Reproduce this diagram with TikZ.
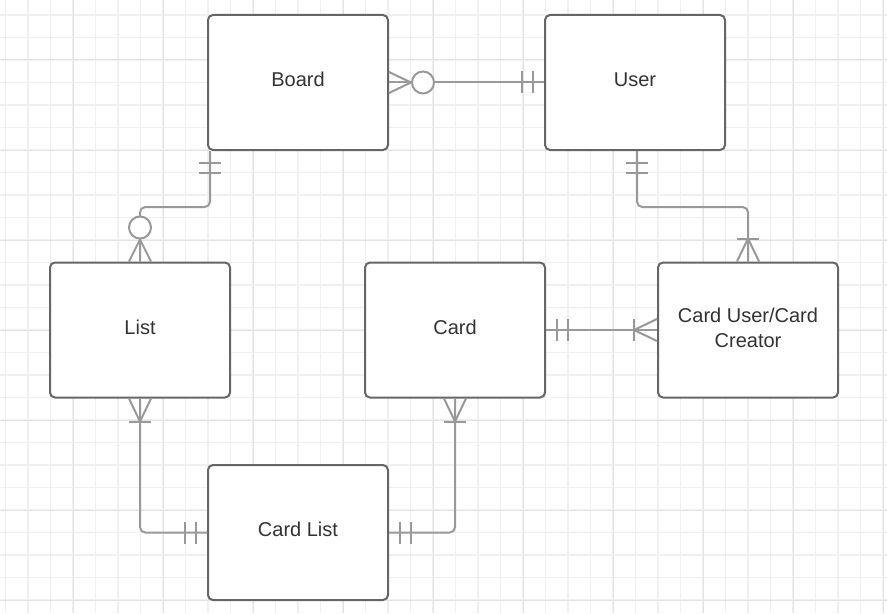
\documentclass[tikz,border=0pt]{standalone}
\usepackage{fontspec}
\setmainfont{Liberation Sans}
\usetikzlibrary{calc}

\definecolor{boxline}{HTML}{666666}
\definecolor{connline}{HTML}{999999}
\definecolor{gridlight}{HTML}{F0F0F0}
\definecolor{gridmaj}{HTML}{E3E3E3}
\definecolor{labeltext}{HTML}{333333}

\tikzset{
  entity/.style={draw=boxline, line width=1.5pt, fill=white, rounded corners=3.75pt,
    minimum width=135pt, minimum height=101.25pt, inner sep=0pt, align=center,
    text height=11pt, text depth=4.8pt,
    text=labeltext, font=\fontsize{15}{18.75}\selectfont},
  conn/.style={draw=connline, line width=1.5pt},
  gridthin/.style={draw=gridlight, line width=1.1pt},
  gridthick/.style={draw=gridmaj, line width=0.75pt},
}

\begin{document}
\begin{tikzpicture}[x=0.75pt,y=-0.75pt]
        \useasboundingbox[fill=white] (0,0) rectangle (887,613);
        % background grid
        \foreach \i in {0,...,39} \draw[gridthin] ({5.5+22.5*\i},0) -- ++(0,613);
        \foreach \i in {0,...,26} \draw[gridthin] (0,{15+22.5*\i}) -- ++(887,0);
        \foreach \i in {0,...,9} \draw[gridthick] ({73+90*\i},0) -- ++(0,613);
        \foreach \i in {0,...,6} \draw[gridthick] (0,{60+90*\i}) -- ++(887,0);
        % entities
        \node[entity] (board) at (298,82.5) {Board};
        \node[entity] (user) at (635,82.5) {User};
        \node[entity] (list) at (140,330) {List};
        \node[entity] (card) at (455,330) {Card};
        \node[entity, text height=30pt, text depth=4.5pt] (cuser) at (748,330) {Card User/Card\\Creator};
        \node[entity] (clist) at (298,532.5) {Card List};
        \coordinate (bl) at ($(board.south west)+(3,0)$);
        \coordinate (ul) at ($(user.south)+(2,0)$);
        % Board -- User
        \draw[conn] (board.east) -- (user.west);
        \draw[conn] ($(board.east)+(0,-10.5)$) -- ($(board.east)+(22,0)$) -- ($(board.east)+(0,10.5)$);
        \draw[conn, fill=white] ($(board.east)+(34,0)$) circle[radius=8.25pt];
        \draw[conn] ($(user.west)+(-11,-11)$) -- ++(0,22);
        \draw[conn] ($(user.west)+(-22,-11)$) -- ++(0,22);
        % Board -- List
        \draw[conn, rounded corners=4pt] (bl) -- ++(0,56) -| (list.north);
        \draw[conn] ($(bl)+(-11,12)$) -- ++(22,0);
        \draw[conn] ($(bl)+(-11,22)$) -- ++(22,0);
        \draw[conn] ($(list.north)+(-11,0)$) -- ($(list.north)+(0,-22)$) -- ($(list.north)+(11,0)$);
        \draw[conn, fill=white] ($(list.north)+(0,-34)$) circle[radius=8.25pt];
        % User -- Card User
        \draw[conn, rounded corners=4pt] (ul) -- ++(0,56) -| (cuser.north);
        \draw[conn] ($(ul)+(-11,12)$) -- ++(22,0);
        \draw[conn] ($(ul)+(-11,22)$) -- ++(22,0);
        \draw[conn] ($(cuser.north)+(-11,0)$) -- ($(cuser.north)+(0,-23)$) -- ($(cuser.north)+(11,0)$);
        \draw[conn] ($(cuser.north)+(-11,-23)$) -- ++(22,0);
        % Card -- Card User
        \draw[conn] (card.east) -- (cuser.west);
        \draw[conn] ($(card.east)+(11,-11)$) -- ++(0,22);
        \draw[conn] ($(card.east)+(22,-11)$) -- ++(0,22);
        \draw[conn] ($(cuser.west)+(0,-11)$) -- ($(cuser.west)+(-23,0)$) -- ($(cuser.west)+(0,11)$);
        \draw[conn] ($(cuser.west)+(-23,-11)$) -- ++(0,22);
        % List -- Card List
        \draw[conn, rounded corners=4pt] (list.south) |- (clist.west);
        \draw[conn] ($(list.south)+(-11,0)$) -- ($(list.south)+(0,23)$) -- ($(list.south)+(11,0)$);
        \draw[conn] ($(list.south)+(-11,23)$) -- ++(22,0);
        \draw[conn] ($(clist.west)+(-11,-11)$) -- ++(0,22);
        \draw[conn] ($(clist.west)+(-22,-11)$) -- ++(0,22);
        % Card List -- Card
        \draw[conn, rounded corners=4pt] (clist.east) -| (card.south);
        \draw[conn] ($(clist.east)+(11,-11)$) -- ++(0,22);
        \draw[conn] ($(clist.east)+(22,-11)$) -- ++(0,22);
        \draw[conn] ($(card.south)+(-11,0)$) -- ($(card.south)+(0,23)$) -- ($(card.south)+(11,0)$);
        \draw[conn] ($(card.south)+(-11,23)$) -- ++(22,0);
\end{tikzpicture}
\end{document}
